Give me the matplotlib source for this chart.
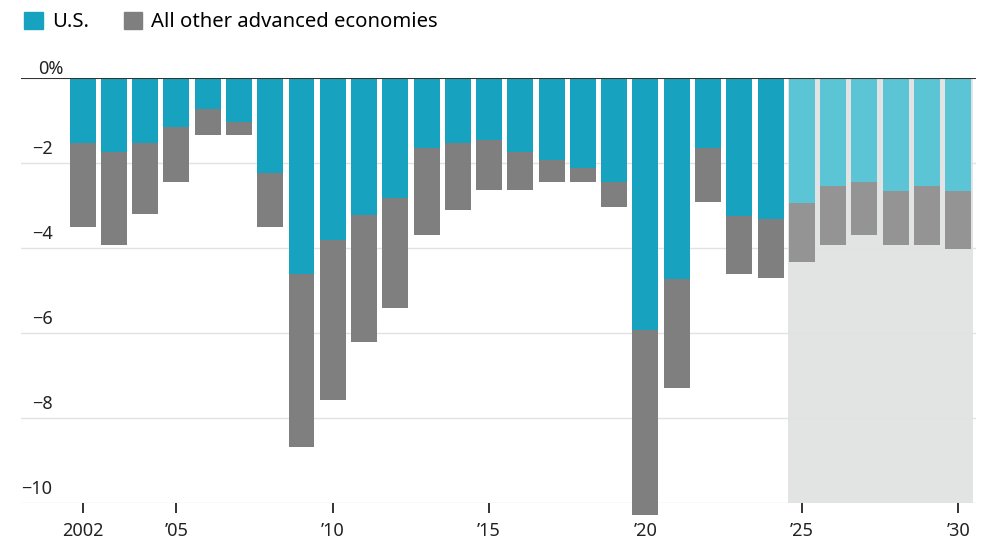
import numpy as np
import matplotlib.pyplot as plt
from matplotlib.patches import Patch

plt.rcParams['font.family'] = ['Noto Sans', 'DejaVu Sans']

years = list(range(2002, 2031))
# share of advanced-economy fiscal balance, % of GDP (U.S. part and total)
us = [-1.54, -1.75, -1.54, -1.17, -0.73, -1.05, -2.24, -4.62, -3.82, -3.23,
      -2.83, -1.65, -1.54, -1.47, -1.74, -1.94, -2.13, -2.45, -5.94, -4.74,
      -1.65, -3.25, -3.33, -2.94, -2.55, -2.46, -2.66, -2.55, -2.66]
total = [-3.52, -3.94, -3.21, -2.45, -1.34, -1.34, -3.52, -8.69, -7.58, -6.22,
         -5.42, -3.70, -3.12, -2.64, -2.64, -2.45, -2.45, -3.04, -10.29, -7.31,
         -2.93, -4.63, -4.72, -4.33, -3.94, -3.71, -3.94, -3.94, -4.04]
first_forecast = 2025
xtick_years = [2002, 2005, 2010, 2015, 2020, 2025, 2030]
xtick_labels = ['2002', '\u201905', '\u201910', '\u201915', '\u201920', '\u201925', '\u201930']
yticks = [0, -2, -4, -6, -8, -10]
ytick_labels = ['0%', '\u22122', '\u22124', '\u22126', '\u22128', '\u221210']

TEAL, TEAL_F = '#17a3bf', '#5bc5d6'
GRAY, GRAY_F = '#7f7f7f', '#949494'

fig = plt.figure(figsize=(10, 5.45), dpi=100)
ax = fig.add_axes([0.021, 0.0776, 0.955, 0.7798])

other = [t - u for t, u in zip(total, us)]
us_col = [TEAL_F if y >= first_forecast else TEAL for y in years]
ot_col = [GRAY_F if y >= first_forecast else GRAY for y in years]

ax.axvspan(first_forecast - 0.43, 2030.47, color='#e2e3e3', lw=0, zorder=0)
for t in yticks[1:]:
    ax.axhline(t, color='#e2e2e2', lw=1, zorder=1)

ax.bar(years, us, width=0.83, color=us_col, zorder=2, clip_on=False)
ax.bar(years, other, bottom=us, width=0.83, color=ot_col, zorder=2, clip_on=False)
ax.axhline(0, color='#333333', lw=1.5, zorder=4)

ax.set_xlim(2000.03, 2030.57)
ax.set_ylim(-10, 0)
for s in ax.spines.values():
    s.set_visible(False)

ax.set_xticks(xtick_years)
ax.set_xticklabels(xtick_labels, fontsize=13, color='#222222')
ax.tick_params(axis='x', length=7, width=1.4, color='#333333', pad=7)
ax.set_yticks([])

for t, lab in zip(yticks, ytick_labels):
    if lab == '0%':
        ax.text(0.0175, t, lab, transform=ax.get_yaxis_transform(), ha='left', va='bottom',
                fontsize=13, color='#222222')
    else:
        ax.text(0.033, t + 0.1, lab, transform=ax.get_yaxis_transform(), ha='right', va='bottom',
                fontsize=13, color='#222222')

handles = [Patch(color=TEAL), Patch(color=GRAY)]
fig.legend(handles, ['U.S.', 'All other advanced economies'], loc='upper left',
           bbox_to_anchor=(0.006, 1.012), ncol=2, frameon=False, fontsize=14.6,
           handlelength=0.9, handleheight=0.9, handletextpad=0.45, columnspacing=1.75)

fig.savefig('out.png', dpi=100)
